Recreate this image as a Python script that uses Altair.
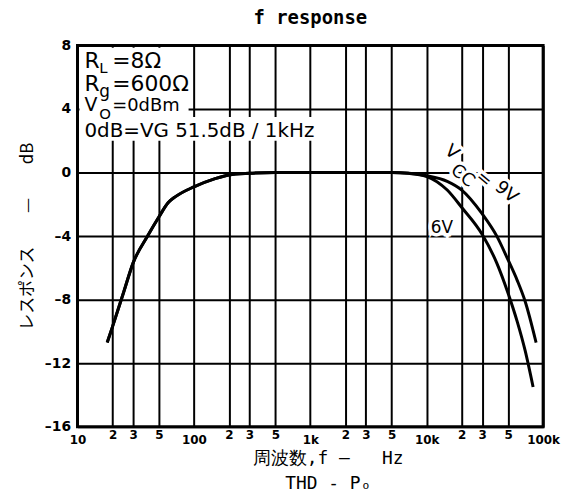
import altair as alt
import pandas as pd

# ---- data ----
freq_9v = [18, 20, 25, 30, 40, 50, 60, 70, 100, 150, 200, 300, 500, 1000, 2000, 5000, 7000,
           10000, 15000, 20000, 30000, 40000, 50000, 60000, 70000, 87000]
resp_9v = [-10.7, -9.7, -7.5, -5.7, -4.0, -2.8, -1.9, -1.5, -0.9, -0.4, -0.15, -0.05, 0, 0, 0, 0, -0.05,
           -0.2, -0.55, -1.1, -2.6, -4.0, -5.5, -6.8, -8.1, -10.7]
freq_6v = [18, 20, 25, 30, 40, 50, 60, 70, 100, 150, 200, 300, 500, 1000, 2000, 5000, 7000,
           10000, 15000, 20000, 30000, 40000, 50000, 60000, 70000, 82000]
resp_6v = [-10.7, -9.7, -7.5, -5.7, -4.0, -2.8, -1.9, -1.5, -0.9, -0.4, -0.15, -0.05, 0, 0, 0, 0, -0.05,
           -0.25, -1.1, -2.2, -3.9, -5.7, -7.6, -9.4, -11.2, -13.5]

x_ticks = [10, 20, 30, 50, 100, 200, 300, 500, 1000, 2000, 3000, 5000, 10000, 20000, 30000, 50000, 100000]
x_tick_labels = ["10", "2", "3", "5", "100", "2", "3", "5", "1k", "2", "3", "5", "10k", "2", "3", "5", "100k"]
y_ticks = [8, 4, 0, -4, -8, -12, -16]
y_tick_labels = ["8", "4", "0", "–4", "–8", "–12", "–16"]

# annotation texts (data coordinates: frequency, dB)
note_text = ["R", "L", "=8Ω", "R", "g", "=600Ω", "V", "O", "=0dBm", "0dB=VG 51.5dB / 1kHz"]
note_f = [11.47, 15.4, 19.9, 11.47, 15.4, 19.9, 11.47, 15.4, 19.9, 11.47]
note_db = [6.56, 6.25, 6.56, 5.12, 4.75, 5.12, 3.87, 3.37, 3.87, 2.25]
note_size = [22, 15, 22, 22, 17, 22, 19, 15, 18, 20]

curve_text = ["V", "CC", "=", "9V", "6V"]
curve_f = [16400, 20300, 30800, 48300, 13500]
curve_db = [1.25, -0.22, -0.44, -1.25, -3.5]
curve_size = [18, 18, 18, 18, 17]
curve_angle = [40, 40, 40, 40, 0]

mask_f = [10.4, 90]
mask_f2 = [90, 1200]
mask_db = [7.85, 3.5]
mask_db2 = [2.0, 2.0]

# ---- tables ----
lines = pd.concat([
    pd.DataFrame({"f": freq_9v, "db": resp_9v, "s": "9V"}),
    pd.DataFrame({"f": freq_6v, "db": resp_6v, "s": "6V"}),
])
notes = pd.DataFrame({"f": note_f, "db": note_db, "t": note_text, "sz": note_size})
clabels = pd.DataFrame({"f": curve_f, "db": curve_db, "t": curve_text, "sz": curve_size, "a": curve_angle})
masks = pd.DataFrame({"f": mask_f, "f2": mask_f2, "db": mask_db, "db2": mask_db2})

xscale = alt.Scale(type="log", domain=[10, 100000], nice=False)
yscale = alt.Scale(domain=[-16, 8], nice=False, zero=False)


def lab_expr(vals, labs):
    return ("[" + ",".join("'%s'" % l for l in labs) + "][indexof(["
            + ",".join(str(v) for v in vals) + "], datum.value)]")


x_axis = alt.Axis(
    values=x_ticks, labelExpr=lab_expr(x_ticks, x_tick_labels),
    grid=True, gridColor="black", gridWidth=2, gridOpacity=1,
    ticks=False, domain=False, labelFlush=False,
    labelFont="DejaVu Sans", labelFontSize=12, labelFontWeight="bold", labelColor="black",
    labelPadding={"condition": {"test": "indexof([10,100,1000,10000,100000], datum.value) >= 0", "value": 8}, "value": 3},
    title=["周波数,f\u00a0—\u00a0\u00a0\u00a0Hz", "THD\u00a0-\u00a0Pₒ\u00a0\u00a0\u00a0\u00a0"],
    titleFont="DejaVu Sans Mono", titleFontSize=18, titleFontWeight="normal", titleColor="black",
    titleX=252, titleY=23, titleAnchor="start", titleAlign="center", titleBaseline="top", titleLineHeight=25,
)
y_axis = alt.Axis(
    values=y_ticks, labelExpr=lab_expr(y_ticks, y_tick_labels),
    grid=True, gridColor="black", gridWidth=2, gridOpacity=1,
    ticks=False, domain=False,
    labelFont="DejaVu Sans", labelFontSize=14, labelFontWeight="bold", labelColor="black", labelPadding=7,
    title="レスポンス\u2003\u2003—\u2003\u2003dB",
    titleFont="Noto Sans CJK JP", titleFontSize=17, titleFontWeight="normal", titleColor="black",
    titleX=-50, titleY=192, titleAngle=270, titleAlign="center", titleBaseline="middle",
)

X = alt.X("f:Q", scale=xscale, axis=x_axis)
Y = alt.Y("db:Q", scale=yscale, axis=y_axis)

mask_layer = alt.Chart(masks).mark_rect(fill="white").encode(
    x=X, x2="f2:Q", y=Y, y2="db2:Q",
)

line_layer = alt.Chart(lines).mark_line(strokeWidth=3, interpolate="monotone").encode(
    x=X, y=Y,
    color=alt.Color("s:N", scale=alt.Scale(range=["black", "black"]), legend=None),
)

note_layer = alt.Chart(notes).mark_text(align="left", baseline="alphabetic", font="DejaVu Sans",
                                        color="black").encode(
    x=X, y=Y, text="t:N",
    size=alt.Size("sz:Q", scale=None, legend=None),
)

halo_layer = alt.Chart(clabels).mark_text(align="center", baseline="middle", font="DejaVu Sans",
                                          fill="white", stroke="white", strokeWidth=7).encode(
    x=X, y=Y, text="t:N",
    size=alt.Size("sz:Q", scale=None, legend=None),
    angle=alt.Angle("a:Q", scale=None),
)
clabel_layer = alt.Chart(clabels).mark_text(align="center", baseline="middle", font="DejaVu Sans",
                                            color="black").encode(
    x=X, y=Y, text="t:N",
    size=alt.Size("sz:Q", scale=None, legend=None),
    angle=alt.Angle("a:Q", scale=None),
)

chart = alt.layer(line_layer, mask_layer, halo_layer, note_layer, clabel_layer).properties(
    width=469, height=384,
    autosize=alt.AutoSizeParams(type="none"),
    padding={"left": 70, "top": 36, "right": 18, "bottom": 64},
    background="white",
    title=alt.Title("f response", font="DejaVu Sans Mono", fontSize=19, fontWeight="bold",
                    color="black", anchor="middle", offset=-4, baseline="alphabetic"),
).configure_view(stroke="black", strokeWidth=3)

chart.save("out.html", embed_options={"renderer": "svg", "actions": False})
